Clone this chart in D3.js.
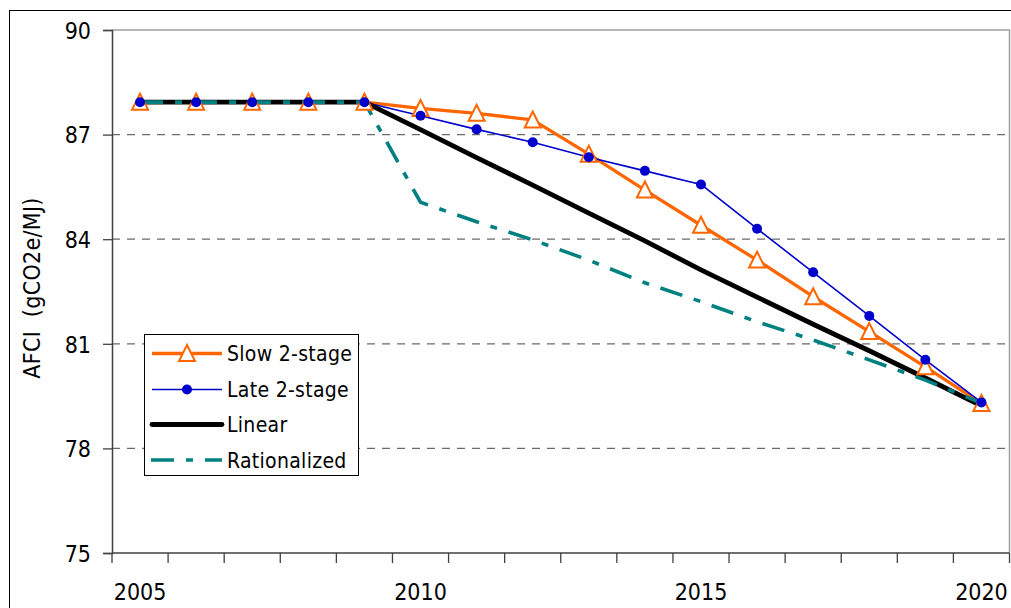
<!DOCTYPE html>
<html>
<head>
<meta charset="utf-8">
<script src="https://cdn.jsdelivr.net/npm/d3@7"></script>
<style>
  html, body { margin: 0; padding: 0; background: #fff; }
  svg { display: block; }
  text { font-family: "DejaVu Sans Condensed", "DejaVu Sans", sans-serif; fill: #000; }
</style>
</head>
<body>
<svg id="chart" width="1011" height="608"></svg>
<script>
const years = [2005, 2006, 2007, 2008, 2009, 2010, 2011, 2012, 2013, 2014, 2015, 2016, 2017, 2018, 2019, 2020];
const xTickLabels = [2005, 2010, 2015, 2020];
const yTicks = [75, 78, 81, 84, 87, 90];
const gridValues = [78, 81, 84, 87];

const slow2stage   = [87.93, 87.93, 87.93, 87.93, 87.93, 87.75, 87.61, 87.42, 86.44, 85.41, 84.40, 83.40, 82.35, 81.35, 80.34, 79.29];
const late2stage   = [87.93, 87.93, 87.93, 87.93, 87.93, 87.54, 87.15, 86.78, 86.35, 85.96, 85.57, 84.30, 83.05, 81.80, 80.54, 79.32];
const linear       = [87.93, 87.93, 87.93, 87.93, 87.93, 87.14, 86.34, 85.55, 84.75, 83.95, 83.12, 82.34, 81.56, 80.80, 80.02, 79.22];
const rationalized = [87.93, 87.93, 87.93, 87.93, 87.93, 85.06, 84.50, 83.98, 83.40, 82.75, 82.21, 81.63, 81.11, 80.54, 79.96, 79.30];

const seriesNames = ["Slow 2-stage", "Late 2-stage", "Linear", "Rationalized"];

const svg = d3.select("#chart");
const L = 112, R = 1009.5, T = 30, B = 553;

const x = d3.scaleBand().domain(years).range([L, R]);
const xc = d => x(d) + x.bandwidth() / 2;
const y = d3.scaleLinear().domain([75, 90]).range([B, T]);

// outer chart frame
svg.append("rect").attr("x", 9.5).attr("y", 10.5).attr("width", 1100).attr("height", 700)
  .attr("fill", "none").attr("stroke", "#000").attr("stroke-width", 1);

// gridlines
svg.append("g").selectAll("line").data(gridValues).join("line")
  .attr("x1", L).attr("x2", R).attr("y1", d => y(d)).attr("y2", d => y(d))
  .attr("stroke", "#6b6b6b").attr("stroke-width", 1.2).attr("stroke-dasharray", "8,7");

// plot area border (top & right)
svg.append("path").attr("d", `M${L},${T}H${R}V${B}`)
  .attr("fill", "none").attr("stroke", "#a0a0a0").attr("stroke-width", 1.5);

// y axis
const yAxis = d3.axisLeft(y).tickValues(yTicks).tickSize(9).tickPadding(12).tickFormat(d3.format("d"));
const gy = svg.append("g").attr("transform", `translate(${L},0)`).call(yAxis);
gy.select(".domain").attr("stroke", "#404040").attr("stroke-width", 1.5);
gy.selectAll(".tick line").attr("stroke", "#404040").attr("stroke-width", 1.3);
gy.selectAll(".tick text").attr("font-size", 23).attr("font-family", null).attr("dy", "0.36em");

// x axis (ticks between categories)
const gx = svg.append("g").attr("transform", `translate(0,${B})`);
gx.append("line").attr("x1", L).attr("x2", R).attr("y1", 0).attr("y2", 0)
  .attr("stroke", "#404040").attr("stroke-width", 1.5);
const boundaries = years.map(d => x(d)).concat([R]);
gx.selectAll("line.tk").data(boundaries).join("line").attr("class", "tk")
  .attr("x1", d => d).attr("x2", d => d).attr("y1", 0).attr("y2", 10)
  .attr("stroke", "#404040").attr("stroke-width", 1.3);
gx.selectAll("text").data(xTickLabels).join("text")
  .attr("x", d => xc(d)).attr("y", 47).attr("text-anchor", "middle")
  .attr("font-size", 23).text(d => d);

// y axis title
svg.append("text").attr("transform", "translate(40,288) rotate(-90)")
  .attr("text-anchor", "middle").attr("font-size", 23).attr("letter-spacing", 0.3)
  .attr("xml:space", "preserve").text("AFCI  (gCO2e/MJ)");

// lines
const line = d3.line().x((d, i) => xc(years[i])).y(d => y(d));
const g = svg.append("g");
g.append("path").datum(slow2stage).attr("d", line).attr("fill", "none")
  .attr("stroke", "#FF6600").attr("stroke-width", 3.3).attr("stroke-linejoin", "round");
g.append("path").datum(late2stage).attr("d", line).attr("fill", "none")
  .attr("stroke", "#0000CC").attr("stroke-width", 1.6).attr("stroke-linejoin", "round");
g.append("path").datum(linear).attr("d", line).attr("fill", "none")
  .attr("stroke", "#000").attr("stroke-width", 4.8).attr("stroke-linejoin", "round");
g.append("path").datum(rationalized).attr("d", line).attr("fill", "none")
  .attr("stroke", "#008080").attr("stroke-width", 3.6).attr("stroke-dasharray", "23,12,7,12");

// markers
const triPath = (cx, cy) => `M${cx},${cy - 8.5}L${cx + 8},${cy + 7.5}L${cx - 8},${cy + 7.5}Z`;
g.append("g").selectAll("path").data(slow2stage).join("path")
  .attr("d", (d, i) => triPath(xc(years[i]), y(d)))
  .attr("fill", "#fff").attr("stroke", "#FF6600").attr("stroke-width", 2);
g.append("g").selectAll("circle").data(late2stage).join("circle")
  .attr("cx", (d, i) => xc(years[i])).attr("cy", d => y(d)).attr("r", 5)
  .attr("fill", "#0000CC");

// legend
const lg = svg.append("g");
lg.append("rect").attr("x", 144.5).attr("y", 334.5).attr("width", 214).attr("height", 141)
  .attr("fill", "#fff").attr("stroke", "#000").attr("stroke-width", 1);
const rowsY = [353.5, 389.5, 424.5, 460];
const lx1 = 152, lx2 = 222, lmid = 187;
// Slow
lg.append("line").attr("x1", lx1).attr("x2", lx2).attr("y1", rowsY[0]).attr("y2", rowsY[0])
  .attr("stroke", "#FF6600").attr("stroke-width", 3.3);
lg.append("path").attr("d", triPath(lmid, rowsY[0])).attr("fill", "#fff")
  .attr("stroke", "#FF6600").attr("stroke-width", 2);
// Late
lg.append("line").attr("x1", lx1).attr("x2", lx2).attr("y1", rowsY[1]).attr("y2", rowsY[1])
  .attr("stroke", "#0000CC").attr("stroke-width", 1.6);
lg.append("circle").attr("cx", lmid).attr("cy", rowsY[1]).attr("r", 5).attr("fill", "#0000CC");
// Linear
lg.append("line").attr("x1", lx1).attr("x2", lx2).attr("y1", rowsY[2]).attr("y2", rowsY[2])
  .attr("stroke", "#000").attr("stroke-width", 4.8).attr("stroke-linecap", "round");
// Rationalized
lg.append("line").attr("x1", lx1 - 1).attr("x2", lx2).attr("y1", rowsY[3]).attr("y2", rowsY[3])
  .attr("stroke", "#008080").attr("stroke-width", 3.6).attr("stroke-dasharray", "23,12,7,12");
lg.selectAll("text").data(seriesNames).join("text")
  .attr("x", 227).attr("y", (d, i) => rowsY[i]).attr("dy", "0.36em")
  .attr("font-size", 21).attr("letter-spacing", 0.3).text(d => d);
</script>
</body>
</html>
